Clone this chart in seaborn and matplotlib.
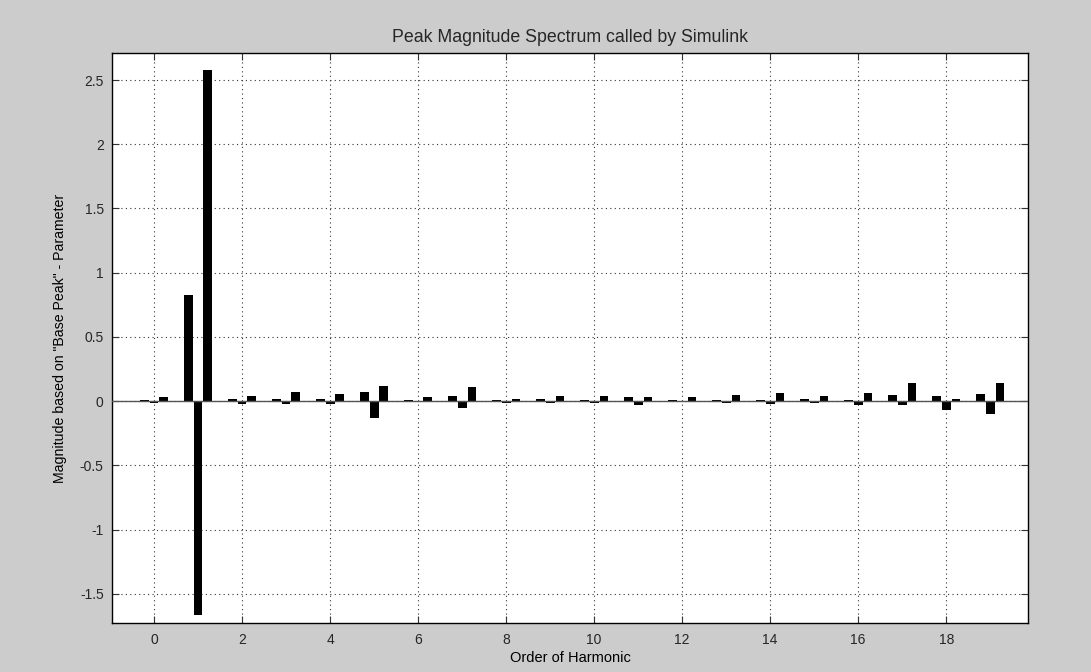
import numpy as np
import pandas as pd
import seaborn as sns
import matplotlib.pyplot as plt

# order of harmonic 0..19, three bars per harmonic
harmonics = list(range(20))
serie_a = [0.013, 0.83, 0.02, 0.02, 0.02, 0.07, 0.013, 0.04, 0.013, 0.02,
           0.013, 0.03, 0.013, 0.013, 0.013, 0.02, 0.013, 0.047, 0.04, 0.055]
serie_b = [-0.013, -1.66, -0.02, -0.02, -0.023, -0.13, -0.004, -0.05, -0.013, -0.013,
           -0.015, -0.03, -0.004, -0.015, -0.023, -0.015, -0.03, -0.03, -0.07, -0.1]
serie_c = [0.035, 2.58, 0.04, 0.07, 0.055, 0.117, 0.03, 0.11, 0.02, 0.04,
           0.04, 0.03, 0.03, 0.047, 0.062, 0.04, 0.062, 0.145, 0.02, 0.145]

df = pd.DataFrame({
    'harmonic': harmonics * 3,
    'serie': ['a'] * 20 + ['b'] * 20 + ['c'] * 20,
    'valor': serie_a + serie_b + serie_c,
})

plt.rcParams['font.family'] = ['Liberation Sans', 'DejaVu Sans']
plt.rcParams['text.color'] = '#262626'

fig = plt.figure(figsize=(10.91, 6.72), dpi=100, facecolor='#cccccc')
ax = fig.add_axes([0.1027, 0.0729, 0.8396, 0.8482])
ax.set_facecolor('white')

sns.barplot(data=df, x='harmonic', y='valor', hue='serie',
            palette=['black'] * 3, width=0.667, gap=0.1,
            edgecolor='black', linewidth=0, legend=False, ax=ax)

# linea base en cero
ax.axhline(0, color='#555555', linewidth=1, zorder=3)

ax.set_xlim(-0.955, 19.86)
ax.set_ylim(-1.726, 2.71)
ax.set_xticks(range(0, 20, 2))
ax.set_xticklabels([str(i) for i in range(0, 20, 2)])
ax.set_yticks(np.arange(-1.5, 2.51, 0.5))
ax.set_yticklabels(['-1.5', '-1', '-0.5', '0', '0.5', '1', '1.5', '2', '2.5'])

ax.grid(True, linestyle=(0, (1, 3)), color='#333333', linewidth=0.8)
ax.set_axisbelow(True)
ax.tick_params(direction='in', top=True, right=True, length=5, color='#333333',
               labelsize=10, labelcolor='#262626')
ax.tick_params(axis='x', pad=7)
ax.tick_params(axis='y', pad=6)
for s in ax.spines.values():
    s.set_color('black')
    s.set_linewidth(1)

ax.set_title('Peak Magnitude Spectrum called by Simulink', fontsize=12.8, pad=8)
ax.set_xlabel('Order of Harmonic', fontsize=10.5, labelpad=3)
ax.set_ylabel('Magnitude based on "Base Peak" - Parameter', fontsize=10.2, labelpad=9)

fig.savefig('out.png', dpi=100, facecolor=fig.get_facecolor())
